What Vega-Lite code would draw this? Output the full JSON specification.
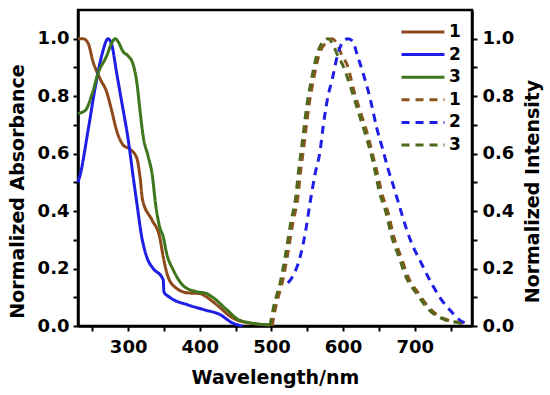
{
  "$schema": "https://vega.github.io/schema/vega-lite/v6.json",
  "width": 394,
  "height": 316,
  "autosize": {"type": "none"},
  "padding": {"left": 78, "top": 10, "right": 78, "bottom": 69},
  "background": "white",
  "config": {
    "view": {"stroke": "black", "strokeWidth": 2.5},
    "font": "DejaVu Sans",
    "axis": {
      "domainColor": "black", "domainWidth": 2.5, "tickColor": "black", "tickWidth": 2,
      "tickSize": 5, "grid": false, "labelFont": "DejaVu Sans", "labelFontWeight": "bold",
      "labelFontSize": 18, "labelColor": "black", "titleFont": "DejaVu Sans",
      "titleFontWeight": "bold", "titleFontSize": 19, "titleColor": "black"
    },
    "legend": {
      "labelFont": "DejaVu Sans", "labelFontWeight": "bold", "labelFontSize": 17, "labelColor": "black"
    }
  },
  "data": {"values": [
    {"wl": 230, "v": 1.0, "s": "a1"}, {"wl": 237, "v": 1.0, "s": "a1"}, {"wl": 244, "v": 0.985, "s": "a1"},
    {"wl": 251, "v": 0.92, "s": "a1"}, {"wl": 261, "v": 0.86, "s": "a1"}, {"wl": 270, "v": 0.815, "s": "a1"},
    {"wl": 277, "v": 0.75, "s": "a1"}, {"wl": 284, "v": 0.68, "s": "a1"}, {"wl": 293, "v": 0.63, "s": "a1"},
    {"wl": 303, "v": 0.615, "s": "a1"}, {"wl": 312, "v": 0.585, "s": "a1"}, {"wl": 317, "v": 0.51, "s": "a1"},
    {"wl": 320, "v": 0.44, "s": "a1"}, {"wl": 333, "v": 0.37, "s": "a1"}, {"wl": 344, "v": 0.31, "s": "a1"},
    {"wl": 349, "v": 0.24, "s": "a1"}, {"wl": 354, "v": 0.185, "s": "a1"}, {"wl": 365, "v": 0.136, "s": "a1"},
    {"wl": 384, "v": 0.115, "s": "a1"}, {"wl": 400, "v": 0.113, "s": "a1"}, {"wl": 410, "v": 0.1, "s": "a1"},
    {"wl": 424, "v": 0.073, "s": "a1"}, {"wl": 446, "v": 0.028, "s": "a1"}, {"wl": 470, "v": 0.01, "s": "a1"},
    {"wl": 498, "v": 0.004, "s": "a1"},
    {"wl": 230, "v": 0.5, "s": "a2"}, {"wl": 233, "v": 0.526, "s": "a2"}, {"wl": 244, "v": 0.68, "s": "a2"},
    {"wl": 254, "v": 0.83, "s": "a2"}, {"wl": 264, "v": 0.95, "s": "a2"}, {"wl": 272, "v": 1.0, "s": "a2"},
    {"wl": 277, "v": 0.98, "s": "a2"}, {"wl": 284, "v": 0.88, "s": "a2"}, {"wl": 291, "v": 0.78, "s": "a2"},
    {"wl": 300, "v": 0.65, "s": "a2"}, {"wl": 307, "v": 0.52, "s": "a2"}, {"wl": 312, "v": 0.43, "s": "a2"},
    {"wl": 319, "v": 0.31, "s": "a2"}, {"wl": 326, "v": 0.24, "s": "a2"}, {"wl": 335, "v": 0.2, "s": "a2"},
    {"wl": 347, "v": 0.17, "s": "a2"}, {"wl": 349, "v": 0.16, "s": "a2"}, {"wl": 350, "v": 0.118, "s": "a2"},
    {"wl": 358, "v": 0.1, "s": "a2"}, {"wl": 384, "v": 0.073, "s": "a2"}, {"wl": 407, "v": 0.056, "s": "a2"},
    {"wl": 428, "v": 0.04, "s": "a2"}, {"wl": 446, "v": 0.01, "s": "a2"}, {"wl": 460, "v": 0.0, "s": "a2"},
    {"wl": 230, "v": 0.74, "s": "a3"}, {"wl": 240, "v": 0.75, "s": "a3"}, {"wl": 250, "v": 0.81, "s": "a3"},
    {"wl": 258, "v": 0.88, "s": "a3"}, {"wl": 270, "v": 0.94, "s": "a3"}, {"wl": 277, "v": 0.985, "s": "a3"},
    {"wl": 282, "v": 1.0, "s": "a3"}, {"wl": 286, "v": 0.99, "s": "a3"}, {"wl": 293, "v": 0.955, "s": "a3"},
    {"wl": 300, "v": 0.94, "s": "a3"}, {"wl": 307, "v": 0.91, "s": "a3"}, {"wl": 312, "v": 0.85, "s": "a3"},
    {"wl": 317, "v": 0.74, "s": "a3"}, {"wl": 321, "v": 0.66, "s": "a3"}, {"wl": 328, "v": 0.59, "s": "a3"},
    {"wl": 334, "v": 0.52, "s": "a3"}, {"wl": 338, "v": 0.43, "s": "a3"}, {"wl": 344, "v": 0.345, "s": "a3"},
    {"wl": 349, "v": 0.31, "s": "a3"}, {"wl": 354, "v": 0.25, "s": "a3"}, {"wl": 363, "v": 0.195, "s": "a3"},
    {"wl": 379, "v": 0.136, "s": "a3"}, {"wl": 398, "v": 0.118, "s": "a3"}, {"wl": 407, "v": 0.115, "s": "a3"},
    {"wl": 418, "v": 0.1, "s": "a3"}, {"wl": 438, "v": 0.056, "s": "a3"}, {"wl": 456, "v": 0.02, "s": "a3"},
    {"wl": 498, "v": 0.003, "s": "a3"},
    {"wl": 501, "v": 0.0, "s": "e1"}, {"wl": 506, "v": 0.066, "s": "e1"}, {"wl": 516, "v": 0.16, "s": "e1"},
    {"wl": 523, "v": 0.254, "s": "e1"}, {"wl": 530, "v": 0.36, "s": "e1"}, {"wl": 537, "v": 0.45, "s": "e1"},
    {"wl": 541, "v": 0.543, "s": "e1"}, {"wl": 544, "v": 0.6, "s": "e1"}, {"wl": 548, "v": 0.68, "s": "e1"},
    {"wl": 552, "v": 0.76, "s": "e1"}, {"wl": 559, "v": 0.86, "s": "e1"}, {"wl": 566, "v": 0.94, "s": "e1"},
    {"wl": 578, "v": 0.99, "s": "e1"}, {"wl": 585, "v": 1.0, "s": "e1"}, {"wl": 592, "v": 0.98, "s": "e1"},
    {"wl": 597, "v": 0.95, "s": "e1"}, {"wl": 607, "v": 0.9, "s": "e1"}, {"wl": 615, "v": 0.82, "s": "e1"},
    {"wl": 625, "v": 0.74, "s": "e1"}, {"wl": 635, "v": 0.66, "s": "e1"}, {"wl": 643, "v": 0.58, "s": "e1"},
    {"wl": 650, "v": 0.51, "s": "e1"}, {"wl": 653, "v": 0.474, "s": "e1"}, {"wl": 663, "v": 0.394, "s": "e1"},
    {"wl": 671, "v": 0.31, "s": "e1"}, {"wl": 681, "v": 0.24, "s": "e1"}, {"wl": 691, "v": 0.17, "s": "e1"},
    {"wl": 705, "v": 0.115, "s": "e1"}, {"wl": 723, "v": 0.056, "s": "e1"}, {"wl": 747, "v": 0.02, "s": "e1"},
    {"wl": 765, "v": 0.01, "s": "e1"}, {"wl": 774, "v": 0.0, "s": "e1"},
    {"wl": 523, "v": 0.15, "s": "e2"}, {"wl": 529, "v": 0.17, "s": "e2"}, {"wl": 540, "v": 0.24, "s": "e2"},
    {"wl": 547, "v": 0.32, "s": "e2"}, {"wl": 554, "v": 0.43, "s": "e2"}, {"wl": 561, "v": 0.53, "s": "e2"},
    {"wl": 568, "v": 0.61, "s": "e2"}, {"wl": 572, "v": 0.69, "s": "e2"}, {"wl": 579, "v": 0.8, "s": "e2"},
    {"wl": 585, "v": 0.86, "s": "e2"}, {"wl": 592, "v": 0.94, "s": "e2"}, {"wl": 600, "v": 0.99, "s": "e2"},
    {"wl": 607, "v": 1.0, "s": "e2"}, {"wl": 614, "v": 0.99, "s": "e2"}, {"wl": 619, "v": 0.95, "s": "e2"},
    {"wl": 628, "v": 0.88, "s": "e2"}, {"wl": 638, "v": 0.79, "s": "e2"}, {"wl": 647, "v": 0.69, "s": "e2"},
    {"wl": 656, "v": 0.61, "s": "e2"}, {"wl": 663, "v": 0.545, "s": "e2"}, {"wl": 670, "v": 0.49, "s": "e2"},
    {"wl": 679, "v": 0.415, "s": "e2"}, {"wl": 689, "v": 0.334, "s": "e2"}, {"wl": 698, "v": 0.275, "s": "e2"},
    {"wl": 707, "v": 0.23, "s": "e2"}, {"wl": 721, "v": 0.16, "s": "e2"}, {"wl": 735, "v": 0.1, "s": "e2"},
    {"wl": 749, "v": 0.056, "s": "e2"}, {"wl": 763, "v": 0.02, "s": "e2"}, {"wl": 773, "v": 0.007, "s": "e2"},
    {"wl": 777, "v": 0.0, "s": "e2"},
    {"wl": 498, "v": 0.0, "s": "e3"}, {"wl": 503, "v": 0.066, "s": "e3"}, {"wl": 513, "v": 0.16, "s": "e3"},
    {"wl": 520, "v": 0.254, "s": "e3"}, {"wl": 527, "v": 0.36, "s": "e3"}, {"wl": 534, "v": 0.45, "s": "e3"},
    {"wl": 538, "v": 0.543, "s": "e3"}, {"wl": 541, "v": 0.6, "s": "e3"}, {"wl": 545, "v": 0.68, "s": "e3"},
    {"wl": 549, "v": 0.76, "s": "e3"}, {"wl": 556, "v": 0.86, "s": "e3"}, {"wl": 563, "v": 0.94, "s": "e3"},
    {"wl": 572, "v": 0.99, "s": "e3"}, {"wl": 579, "v": 1.0, "s": "e3"}, {"wl": 586, "v": 0.98, "s": "e3"},
    {"wl": 591, "v": 0.95, "s": "e3"}, {"wl": 601, "v": 0.9, "s": "e3"}, {"wl": 612, "v": 0.82, "s": "e3"},
    {"wl": 622, "v": 0.74, "s": "e3"}, {"wl": 632, "v": 0.66, "s": "e3"}, {"wl": 641, "v": 0.58, "s": "e3"},
    {"wl": 647, "v": 0.51, "s": "e3"}, {"wl": 650, "v": 0.474, "s": "e3"}, {"wl": 660, "v": 0.394, "s": "e3"},
    {"wl": 668, "v": 0.31, "s": "e3"}, {"wl": 678, "v": 0.24, "s": "e3"}, {"wl": 688, "v": 0.17, "s": "e3"},
    {"wl": 702, "v": 0.115, "s": "e3"}, {"wl": 720, "v": 0.056, "s": "e3"}, {"wl": 744, "v": 0.02, "s": "e3"},
    {"wl": 762, "v": 0.01, "s": "e3"}, {"wl": 771, "v": 0.0, "s": "e3"}
  ]},
  "encoding": {
    "x": {
      "field": "wl", "type": "quantitative",
      "scale": {"domain": [230, 780], "nice": false, "zero": false},
      "axis": {
        "title": "Wavelength/nm", "values": [250, 300, 350, 400, 450, 500, 550, 600, 650, 700, 750],
        "labelExpr": "datum.value % 100 == 0 ? datum.value : ''", "labelPadding": 7,
        "titleY": 57, "titleBaseline": "alphabetic"
      }
    },
    "color": {
      "field": "s", "type": "nominal",
      "scale": {"domain": ["a1", "a2", "a3", "e1", "e2", "e3"],
                "range": ["#8f4a1c", "#1e1ee6", "#3d761c", "#8c561e", "#1e1ee6", "#4f6a1c"]},
      "legend": {
        "title": null, "orient": "none", "legendX": 336, "legendY": 13, "padding": 0,
        "symbolType": "M-3,0H3", "symbolSize": 205, "symbolStrokeWidth": 3,
        "labelExpr": "substring(datum.label, 1)", "rowPadding": 5.6, "labelOffset": 17
      }
    },
    "strokeDash": {
      "field": "s", "type": "nominal",
      "scale": {"domain": ["a1", "a2", "a3", "e1", "e2", "e3"],
                "range": [[1, 0], [1, 0], [1, 0], [8, 6], [8, 6], [8, 6]]},
      "legend": {
        "title": null, "orient": "none", "legendX": 336, "legendY": 13, "padding": 0,
        "symbolType": "M-3,0H3", "symbolSize": 205, "symbolStrokeWidth": 3,
        "labelExpr": "substring(datum.label, 1)", "rowPadding": 5.6, "labelOffset": 17
      }
    }
  },
  "layer": [
    {
      "transform": [{"filter": "indexof(datum.s, 'a') == 0"}],
      "mark": {"type": "line", "strokeWidth": 3, "interpolate": "monotone"},
      "encoding": {
        "y": {
          "field": "v", "type": "quantitative",
          "scale": {"domain": [0, 1.1], "nice": false},
          "axis": {
            "title": "Normalized Absorbance", "orient": "left",
            "values": [0, 0.1, 0.2, 0.3, 0.4, 0.5, 0.6, 0.7, 0.8, 0.9, 1.0],
            "labelExpr": "round(datum.value*10) % 2 == 0 ? format(datum.value, '.1f') : ''",
            "labelPadding": 4, "titleX": -51, "titleY": 181, "titleAngle": -90, "titleBaseline": "bottom"
          }
        }
      }
    },
    {
      "transform": [{"filter": "indexof(datum.s, 'e') == 0"}],
      "mark": {"type": "line", "strokeWidth": 3, "interpolate": "monotone"},
      "encoding": {
        "y": {
          "field": "v", "type": "quantitative",
          "scale": {"domain": [0, 1.1], "nice": false},
          "axis": {
            "title": "Normalized Intensity", "orient": "right",
            "values": [0, 0.1, 0.2, 0.3, 0.4, 0.5, 0.6, 0.7, 0.8, 0.9, 1.0],
            "labelExpr": "round(datum.value*10) % 2 == 0 ? format(datum.value, '.1f') : ''",
            "labelPadding": 5, "titleX": 70, "titleY": 181, "titleAngle": -90, "titleBaseline": "bottom"
          }
        }
      }
    }
  ],
  "resolve": {"scale": {"y": "independent"}}
}
